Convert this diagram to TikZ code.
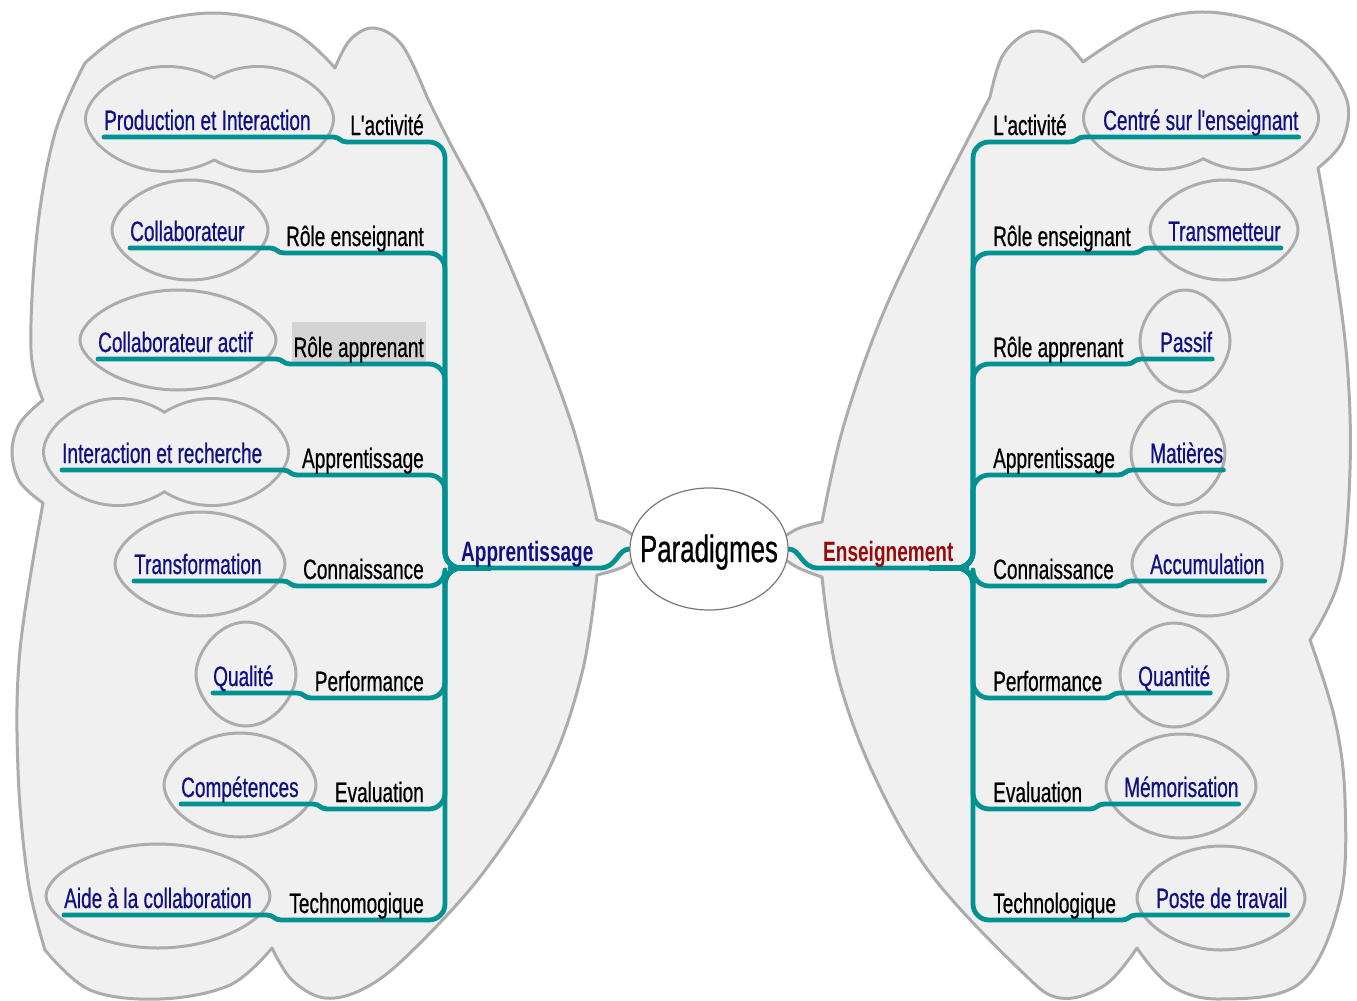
\documentclass[tikz,border=0pt]{standalone}
\usepackage{fontspec}
\setmainfont{Liberation Sans}[FakeStretch=0.68,Ligatures=TeXOff,UprightFeatures={FakeBold=0.6}]
\usetikzlibrary{calc,shapes.geometric}
\definecolor{teal2}{RGB}{0,146,146}
\definecolor{navy2}{RGB}{16,16,130}
\definecolor{dred}{RGB}{150,10,10}
\definecolor{cloudfill}{RGB}{240,240,240}
\definecolor{cloudline}{RGB}{172,172,172}
\definecolor{hilite}{RGB}{212,212,212}
\definecolor{ellline}{RGB}{120,120,120}
\pgfdeclarelayer{background}
\pgfdeclarelayer{lines}
\pgfsetlayers{background,lines,main}
\begin{document}
\begin{tikzpicture}[x=1pt,y=-1pt,
  bigcloud/.style={fill=cloudfill,draw=cloudline,line width=3pt,line join=round},
  leafcloud/.style={fill=cloudfill,draw=cloudline,line width=3pt},
  branch/.style={draw=teal2,line width=4.8pt,line cap=round,line join=round},
  lbl/.style={font=\fontsize{28}{30}\selectfont,inner sep=0pt,text=black},
  leaftxt/.style={font=\fontsize{28}{30}\selectfont,inner sep=0pt,text=navy2},
  maintxt/.style={font=\bfseries\fontsize{28}{30}\selectfont,inner sep=0pt}]
\useasboundingbox (0,0) rectangle (1357,1001);
\begin{pgfonlayer}{background}
\fill[white] (0,0) rectangle (1357,1001);
% left big cloud
\draw[bigcloud] (85,63)
  --plot[smooth,tension=0.6] coordinates {(85,63) (135,28) (215,13) (290,30) (335,68)}
  --plot[smooth,tension=0.6] coordinates {(335,68) (350,40) (374,28) (402,45) (427,97)}
  --plot[smooth,tension=0.6] coordinates {(427,97) (450,143) (487,214) (533,321) (573,428) (597,520)}
  --plot[smooth,tension=0.6] coordinates {(597,520) (625,530) (645,548) (625,566) (597,575)}
  --plot[smooth,tension=0.6] coordinates {(597,575) (582,673) (547,773) (483,873) (410,953) (365,988) (325,998) (292,980) (272,948)}
  --plot[smooth,tension=0.6] coordinates {(272,948) (230,985) (160,999) (90,990) (45,950)}
  --plot[smooth,tension=0.6] coordinates {(45,950) (28,880) (18,770) (20,650) (43,503)}
  --plot[smooth,tension=0.6] coordinates {(43,503) (20,482) (12,452) (20,423) (43,400)}
  --plot[smooth,tension=0.6] coordinates {(43,400) (31,350) (37,233) (55,133) (85,63)}
  -- cycle;
% right big cloud
\draw[bigcloud] (990,97)
  --plot[smooth,tension=0.6] coordinates {(990,97) (1003,55) (1030,32) (1060,38) (1083,62)}
  --plot[smooth,tension=0.6] coordinates {(1083,62) (1150,22) (1220,13) (1300,40) (1345,95) (1343,140) (1318,168)}
  --plot[smooth,tension=0.6] coordinates {(1318,168) (1333,254) (1347,361) (1350,469) (1340,576) (1310,640)}
  --plot[smooth,tension=0.6] coordinates {(1310,640) (1335,720) (1345,800) (1340,900) (1300,983) (1220,999) (1170,985) (1137,948)}
  --plot[smooth,tension=0.6] coordinates {(1137,948) (1105,985) (1060,998) (1020,970) (930,873) (873,773) (837,673) (822,577)}
  --plot[smooth,tension=0.6] coordinates {(822,577) (795,566) (775,548) (795,530) (822,522)}
  --plot[smooth,tension=0.6] coordinates {(822,522) (843,428) (880,321) (930,214) (990,97)}
  -- cycle;
% double-lobed leaf clouds
\foreach \cx/\cy/\a/\b in {167/119/80/51, 258/119/74/51, 118/452/73/52, 212/452/75/52, 1160/118/75/50, 1245/118/72/50}
  \draw[leafcloud,line width=6pt] ({\cx-\a},\cy) .. controls ({\cx-\a},{\cy-0.42*\b}) and ({\cx-0.55*\a},{\cy-\b}) .. (\cx,{\cy-\b})
    .. controls ({\cx+0.55*\a},{\cy-\b}) and ({\cx+\a},{\cy-0.42*\b}) .. ({\cx+\a},\cy)
    .. controls ({\cx+\a},{\cy+0.42*\b}) and ({\cx+0.55*\a},{\cy+\b}) .. (\cx,{\cy+\b})
    .. controls ({\cx-0.55*\a},{\cy+\b}) and ({\cx-\a},{\cy+0.42*\b}) .. cycle;
\foreach \cx/\cy/\a/\b in {167/119/80/51, 258/119/74/51, 118/452/73/52, 212/452/75/52, 1160/118/75/50, 1245/118/72/50}
  \fill[cloudfill] ({\cx-\a},\cy) .. controls ({\cx-\a},{\cy-0.42*\b}) and ({\cx-0.55*\a},{\cy-\b}) .. (\cx,{\cy-\b})
    .. controls ({\cx+0.55*\a},{\cy-\b}) and ({\cx+\a},{\cy-0.42*\b}) .. ({\cx+\a},\cy)
    .. controls ({\cx+\a},{\cy+0.42*\b}) and ({\cx+0.55*\a},{\cy+\b}) .. (\cx,{\cy+\b})
    .. controls ({\cx-0.55*\a},{\cy+\b}) and ({\cx-\a},{\cy+0.42*\b}) .. cycle;
% single leaf clouds
\foreach \cx/\cy/\a/\b in {190/230/78/50, 178/340/98/50, 200/564/85/52, 246/674/50/52, 240/785/76/52, 158/896/112/52,
  1224/230/74/50, 1185/341/45/51, 1178/453/47/52, 1207/564/75/52, 1174/675/54/52, 1181/786/75/52, 1221/898/84/52}
  \draw[leafcloud] ({\cx-\a},\cy) .. controls ({\cx-\a},{\cy-0.42*\b}) and ({\cx-0.55*\a},{\cy-\b}) .. (\cx,{\cy-\b})
    .. controls ({\cx+0.55*\a},{\cy-\b}) and ({\cx+\a},{\cy-0.42*\b}) .. ({\cx+\a},\cy)
    .. controls ({\cx+\a},{\cy+0.42*\b}) and ({\cx+0.55*\a},{\cy+\b}) .. (\cx,{\cy+\b})
    .. controls ({\cx-0.55*\a},{\cy+\b}) and ({\cx-\a},{\cy+0.42*\b}) .. cycle;
\fill[hilite] (292,322) rectangle (426,362);
\end{pgfonlayer}
% centre
\node[ellipse,draw=ellline,line width=1.2pt,fill=white,minimum width=158pt,minimum height=122pt,inner sep=0pt] (par) at (709,549) {};
\node[font=\fontsize{38}{40}\selectfont,inner sep=0pt,anchor=base] (partxt) at (709,562) {Paradigmes};
\node[maintxt,text=navy2,anchor=base west] (app) at (461,561) {Apprentissage};
\node[maintxt,text=dred,anchor=base west] (ens) at (823,561) {Enseignement};
\begin{pgfonlayer}{lines}
\draw[branch] (par.west) .. controls +(-12,0) and +(17,0) .. (600,568) -- (450,568);
\draw[branch] (par.east) .. controls +(12,0) and +(-17,0) .. (818,568) -- (967,568);
\end{pgfonlayer}
% left branches
\foreach [count=\i] \y/\lab/\leaf/\lx/\sa/\sb in {
  142/L'activité/Production et Interaction/104/333/347,
  253/Rôle enseignant/Collaborateur/130/270/284,
  364/Rôle apprenant/Collaborateur actif/98/276/290,
  475/Apprentissage/Interaction et recherche/62/283/297,
  586/Connaissance/Transformation/134/283/297,
  698/Performance/Qualité/213/297/311,
  809/Evaluation/Compétences/181/313/327,
  920/Technomogique/Aide à la collaboration/64/267/281}
{
  \node[lbl,anchor=base east] (L\i) at (424,\y-7) {\lab};
  \node[leaftxt,anchor=base west] (LL\i) at (\lx,\y-12) {\leaf};
  \begin{pgfonlayer}{lines}
  \draw[branch] ($(LL\i.base west)+(0,7)$) -- (\sa,\y-5) .. controls (\sa+7,\y-5) and (\sb-7,\y) .. (\sb,\y)
    [rounded corners=16pt] -- (445,\y) -- (445,568) -- (490,568);
  \end{pgfonlayer}
}
% right branches
\foreach [count=\i] \y/\lab/\leaf/\lx/\sa/\sb in {
  142/L'activité/Centré sur l'enseignant/1103/1070/1084,
  253/Rôle enseignant/Transmetteur/1168/1134/1148,
  364/Rôle apprenant/Passif/1160/1127/1141,
  475/Apprentissage/Matières/1150/1118/1132,
  586/Connaissance/Accumulation/1150/1117/1131,
  698/Performance/Quantité/1138/1105/1119,
  809/Evaluation/Mémorisation/1124/1090/1104,
  920/Technologique/Poste de travail/1156/1122/1136}
{
  \node[lbl,anchor=base west] (R\i) at (993,\y-7) {\lab};
  \node[leaftxt,anchor=base west] (RL\i) at (\lx,\y-12) {\leaf};
  \begin{pgfonlayer}{lines}
  \draw[branch] ($(RL\i.base east)+(0,7)$) -- (\sb,\y-5) .. controls (\sb-7,\y-5) and (\sa+7,\y) .. (\sa,\y)
    [rounded corners=16pt] -- (973,\y) -- (973,568) -- (930,568);
  \end{pgfonlayer}
}
\end{tikzpicture}
\end{document}
